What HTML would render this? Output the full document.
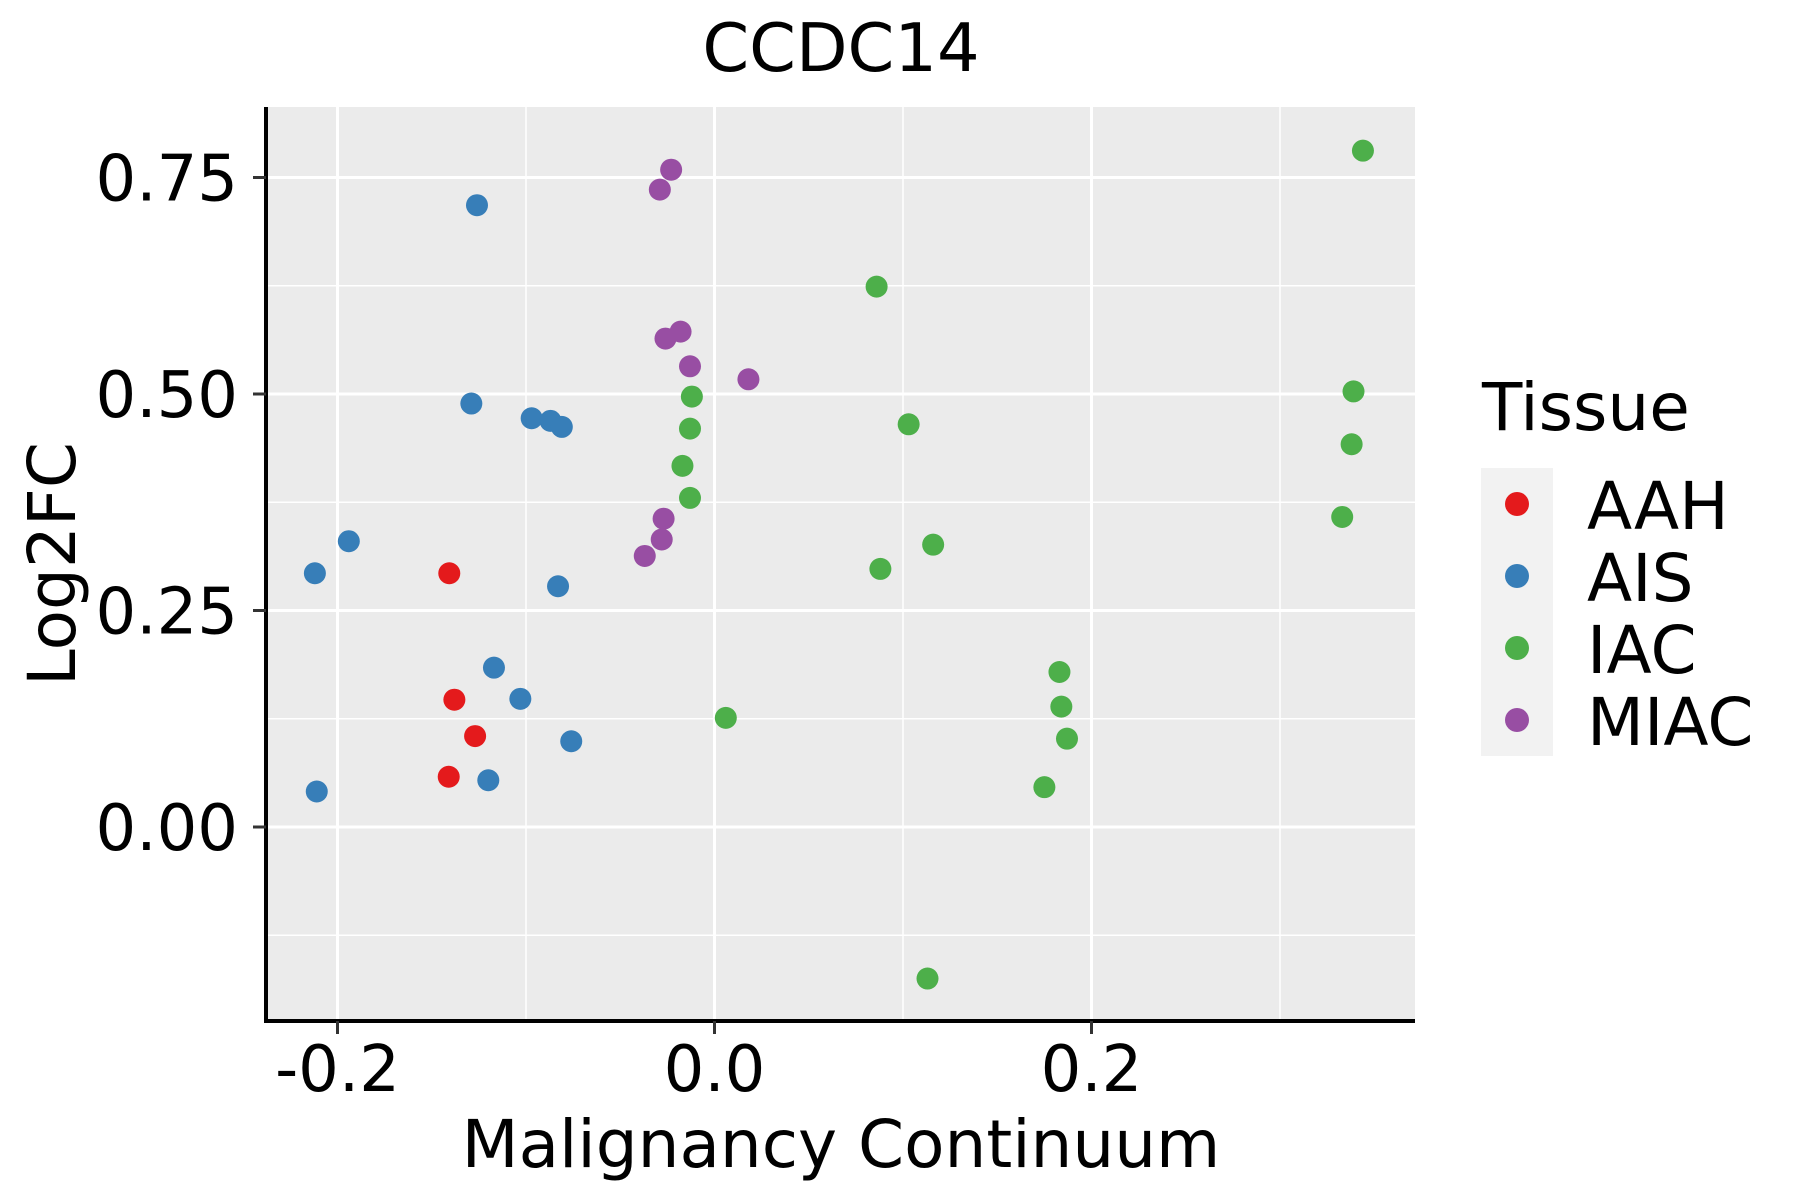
<!DOCTYPE html>
<html><head><meta charset="utf-8"><style>
html,body{margin:0;padding:0;background:#fff;}
svg{display:block;font-family:"DejaVu Sans","Liberation Sans",sans-serif;}
</style></head><body>
<svg id="chart" width="1800" height="1200" viewBox="0 0 1800 1200" xmlns="http://www.w3.org/2000/svg">
<rect width="1800" height="1200" fill="#fff"/>
<text x="841" y="71" font-size="67" text-anchor="middle">CCDC14</text>
<rect x="266" y="107" width="1149" height="914" fill="#ebebeb"/>
<g id="grid"></g>
<g id="pts"></g>
<g id="axes"></g>
<text x="841" y="1167" font-size="66" text-anchor="middle">Malignancy Continuum</text>
<text transform="translate(75,564) rotate(-90)" font-size="66" text-anchor="middle">Log2FC</text>
<g>
<text x="1482" y="430" font-size="66">Tissue</text>
<rect x="1481" y="468" width="72" height="288" fill="#f2f2f2"/>
<g id="legend-items"></g>
</g>
</svg>
<script>
const categories = ["AAH","AIS","IAC","MIAC"];
const colors = ["#e41a1c","#377eb8","#4daf4a","#984ea3"];
const aahX = [-0.1407,-0.138,-0.127,-0.141];
const aahY = [0.293,0.147,0.105,0.058];
const aisX = [-0.126,-0.129,-0.097,-0.087,-0.081,-0.194,-0.212,-0.083,-0.117,-0.103,-0.076,-0.120,-0.211];
const aisY = [0.718,0.489,0.472,0.469,0.462,0.330,0.293,0.278,0.184,0.148,0.099,0.054,0.041];
const iacX = [0.344,0.086,0.339,-0.012,0.103,-0.013,0.338,-0.017,-0.013,0.333,0.116,0.088,0.183,0.006,0.184,0.187,0.175,0.113];
const iacY = [0.781,0.624,0.503,0.497,0.465,0.460,0.442,0.417,0.380,0.358,0.326,0.298,0.179,0.126,0.139,0.102,0.046,-0.175];
const miacX = [-0.023,-0.029,-0.018,-0.026,-0.013,0.018,-0.027,-0.028,-0.037];
const miacY = [0.759,0.736,0.572,0.564,0.532,0.517,0.356,0.332,0.313];
const xTicks = [-0.2,0.0,0.2];
const xTickLabels = ["-0.2","0.0","0.2"];
const xMinor = [-0.1,0.1,0.3];
const yTicks = [0,0.25,0.5,0.75];
const yTickLabels = ["0.00","0.25","0.50","0.75"];
const yMinor = [-0.125,0.125,0.375,0.625];

const NS="http://www.w3.org/2000/svg";
const PL=266,PR=1415,PT=107,PB=1021;
function xs(v){return 714.5 + v*1885;}
function ys(v){return 827 - v*866;}
function mk(tag,attrs,parent){const e=document.createElementNS(NS,tag);for(const k in attrs)e.setAttribute(k,attrs[k]);parent.appendChild(e);return e;}
const grid=document.getElementById('grid'),pts=document.getElementById('pts'),axes=document.getElementById('axes');
xMinor.forEach(v=>{const l=mk('line',{x1:xs(v),x2:xs(v),y1:PT,y2:PB,stroke:'#fff','stroke-width':1.5},grid);

});
yMinor.forEach(v=>{const l=mk('line',{x1:PL,x2:PR,y1:ys(v),y2:ys(v),stroke:'#fff','stroke-width':1.5},grid);

});
xTicks.forEach(v=>{const l=mk('line',{x1:xs(v),x2:xs(v),y1:PT,y2:PB,stroke:'#fff','stroke-width':3},grid);

});
yTicks.forEach(v=>{const l=mk('line',{x1:PL,x2:PR,y1:ys(v),y2:ys(v),stroke:'#fff','stroke-width':3},grid);

});
const series=[[aahX,aahY],[aisX,aisY],[iacX,iacY],[miacX,miacY]];
series.forEach((s,i)=>{s[0].forEach((x,j)=>{const c=mk('circle',{cx:xs(x),cy:ys(s[1][j]),r:11,fill:colors[i]},pts);

});});
const ya=mk('line',{x1:PL,x2:PL,y1:PT,y2:PB+2,stroke:'#000','stroke-width':4},axes);


const xa=mk('line',{x1:PL-2,x2:PR,y1:PB,y2:PB,stroke:'#000','stroke-width':4},axes);


xTicks.forEach((v,i)=>{const t=mk('line',{x1:xs(v),x2:xs(v),y1:PB,y2:PB+13,stroke:'#333','stroke-width':3},axes);


const tx=mk('text',{x:xs(v),y:1091,'font-size':64,'text-anchor':'middle'},axes);tx.textContent=xTickLabels[i];

});
yTicks.forEach((v,i)=>{const t=mk('line',{x1:PL-13,x2:PL,y1:ys(v),y2:ys(v),stroke:'#333','stroke-width':3},axes);


const tx=mk('text',{x:238,y:ys(v)+23,'font-size':64,'text-anchor':'end'},axes);tx.textContent=yTickLabels[i];

});
const lg=document.getElementById('legend-items');
categories.forEach((c,i)=>{const d=mk('circle',{cx:1517,cy:504+72*i,r:12,fill:colors[i]},lg);


const t=mk('text',{x:1587,y:529+72*i,'font-size':66},lg);t.textContent=c;

});
</script>
</body></html>
